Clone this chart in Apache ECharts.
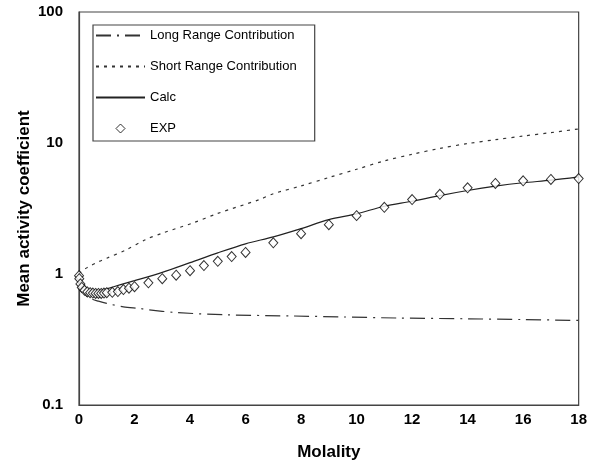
<!DOCTYPE html>
<html><head><meta charset="utf-8">
<script src="https://cdn.jsdelivr.net/npm/echarts@6/dist/echarts.min.js"></script>
<style>html,body{margin:0;padding:0;background:#fff}#c{width:590px;height:469px}</style>
</head><body><div id="c"></div>
<script>
const xTicks = [0, 2, 4, 6, 8, 10, 12, 14, 16, 18];
const yTicks = [0.1, 1, 10, 100];

const longM = [0.001, 0.05, 0.1, 0.2, 0.42, 0.7, 1.0, 1.6, 2.2, 2.5, 3.5, 5.3, 7.7, 9.5, 11.5, 14, 16, 18];
const longV = [0.97, 0.82, 0.76, 0.70, 0.65, 0.62, 0.596, 0.562, 0.545, 0.533, 0.508, 0.488, 0.478, 0.47, 0.461, 0.455, 0.449, 0.442];

const shortM = [0.001, 0.1, 0.3, 0.7, 1.0, 1.7, 2.4, 3, 4.1, 5, 6.5, 7, 8, 9, 10, 11, 12, 13, 14, 15, 16, 17, 18];
const shortV = [1.0, 1.05, 1.12, 1.24, 1.32, 1.53, 1.83, 2.05, 2.45, 2.9, 3.7, 4.1, 4.7, 5.45, 6.3, 7.3, 8.2, 9.1, 9.9, 10.6, 11.3, 12.0, 12.8];

const calcM = [0.001, 0.05, 0.1, 0.2, 0.4, 0.6, 0.8, 1.0, 1.5, 2, 3, 4, 5, 6, 7, 8, 9, 10, 11, 12, 13, 14, 15, 16, 17, 18];
const calcV = [0.97, 0.84, 0.8, 0.76, 0.74, 0.74, 0.75, 0.77, 0.83, 0.89, 1.03, 1.22, 1.45, 1.70, 1.92, 2.22, 2.60, 2.88, 3.29, 3.59, 3.97, 4.34, 4.68, 4.97, 5.20, 5.52];

const expM = [0.001, 0.01, 0.05, 0.1, 0.2, 0.3, 0.4, 0.5, 0.6, 0.7, 0.8, 0.9, 1.0, 1.2, 1.4, 1.6, 1.8, 2.0, 2.5, 3, 3.5, 4, 4.5, 5, 5.5, 6, 7, 8, 9, 10, 11, 12, 13, 14, 15, 16, 17, 18];
const expV = [0.97, 0.92, 0.84, 0.79, 0.75, 0.73, 0.72, 0.715, 0.71, 0.71, 0.71, 0.715, 0.72, 0.725, 0.735, 0.76, 0.78, 0.80, 0.857, 0.92, 0.98, 1.06, 1.16, 1.25, 1.36, 1.46, 1.73, 2.03, 2.38, 2.79, 3.23, 3.70, 4.06, 4.55, 4.91, 5.15, 5.27, 5.35];

const zip = (a, b) => a.map((v, i) => [v, b[i]]);
const font = 'Liberation Sans, Arial, sans-serif';
const diamondPath = 'path://M5,0 L10,5 L5,10 L0,5 Z';

const chart = echarts.init(document.getElementById('c'), null, {renderer: 'canvas'});
chart.setOption({
  animation: false,
  backgroundColor: '#fff',
  grid: {left: 79, right: 8, top: 12, bottom: 64, show: true, borderColor: '#444', borderWidth: 1.2, containLabel: false},
  xAxis: {
    type: 'value', min: 0, max: 18, interval: 2,
    name: 'Molality', nameLocation: 'middle', nameGap: 39, nameMoveOverlap: false,
    nameTextStyle: {fontFamily: font, fontSize: 17, fontWeight: 'bold', color: '#000'},
    axisLine: {show: true, lineStyle: {color: '#444', width: 1.2}},
    axisTick: {show: false},
    splitLine: {show: false},
    axisLabel: {fontFamily: font, fontSize: 15, fontWeight: 'bold', color: '#000', margin: 7,
      formatter: v => xTicks.includes(v) ? String(v) : ''}
  },
  yAxis: {
    type: 'log', logBase: 10, min: 0.1, max: 100,
    name: 'Mean activity coefficient', nameLocation: 'middle', nameGap: 46, nameMoveOverlap: false,
    nameTextStyle: {fontFamily: font, fontSize: 17, fontWeight: 'bold', color: '#000'},
    axisLine: {show: true, lineStyle: {color: '#444', width: 1.2}},
    axisTick: {show: false},
    splitLine: {show: false},
    axisLabel: {fontFamily: font, fontSize: 15, fontWeight: 'bold', color: '#000', margin: 16,
      formatter: v => { const t = yTicks.find(y => Math.abs(y - v) / y < 1e-6); return t === undefined ? '' : String(t); }}
  },
  legend: {
    orient: 'vertical', left: 93, top: 25,
    padding: [4, 18, 6, 2], itemGap: 18, itemWidth: 49, itemHeight: 9,
    borderColor: '#444', borderWidth: 1.2, backgroundColor: '#fff',
    textStyle: {fontFamily: font, fontSize: 13, color: '#000'},
    data: [
      {name: 'Long Range Contribution', itemStyle: {opacity: 0}},
      {name: 'Short Range Contribution', itemStyle: {opacity: 0}},
      {name: 'Calc', itemStyle: {opacity: 0}},
      {name: 'EXP', icon: diamondPath, itemStyle: {color: '#fff', borderColor: '#000', borderWidth: 1}}
    ]
  },
  series: [
    {name: 'Long Range Contribution', type: 'line', data: zip(longM, longV), showSymbol: false, symbol: 'none', smooth: 0.3,
     lineStyle: {color: '#333', width: 1.2, type: [15, 6, 2, 6]}, z: 2},
    {name: 'Short Range Contribution', type: 'line', data: zip(shortM, shortV), showSymbol: false, symbol: 'none', smooth: 0.3,
     lineStyle: {color: '#333', width: 1.2, type: [3, 5]}, z: 2},
    {name: 'Calc', type: 'line', data: zip(calcM, calcV), showSymbol: false, symbol: 'none', smooth: 0.3,
     lineStyle: {color: '#222', width: 1.2, type: 'solid'}, z: 3},
    {name: 'EXP', type: 'scatter', data: zip(expM, expV), symbol: 'diamond', symbolSize: [9, 10],
     itemStyle: {color: '#fff', borderColor: '#000', borderWidth: 1}, z: 4}
  ]
});
</script></body></html>
